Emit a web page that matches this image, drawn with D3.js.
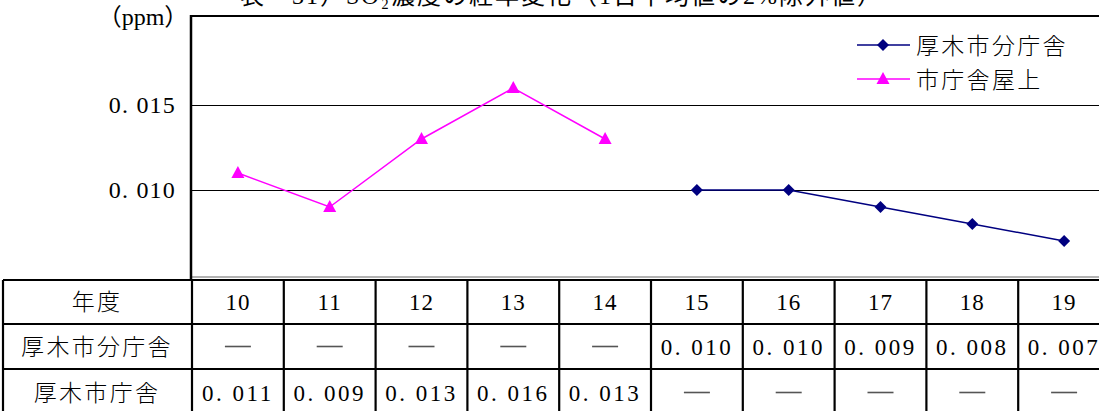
<!DOCTYPE html>
<html><head><meta charset="utf-8">
<script src="https://cdn.jsdelivr.net/npm/d3@7"></script>
<style>
html,body{margin:0;padding:0;background:#fff;overflow:hidden}
svg{display:block}
text{font-family:"Liberation Serif","Noto Sans CJK JP",serif;fill:#000}
</style></head>
<body>
<svg id="c" width="1099" height="411"></svg>
<script>
const title = "表－31）SO₂濃度の経年変化（1日平均値の2%除外値）";
const unitLabel = "（ppm）";
const years = ["10","11","12","13","14","15","16","17","18","19"];
const seriesNames = ["厚木市分庁舎","市庁舎屋上"];
const tableRowNames = ["厚木市分庁舎","厚木市庁舎"];
const bunchosha = [null,null,null,null,null,0.010,0.010,0.009,0.008,0.007];
const honchosha = [0.011,0.009,0.013,0.016,0.013,null,null,null,null,null];
const yTicks = [0.010,0.015];
const colors = ["#000080","#ff00ff"];

const svg = d3.select("#c");
const fmt = d3.format(".3f");
const numFont = "Liberation Serif";
const cjk = "'Noto Sans CJK JP'";

const x = d3.scaleBand().domain(years).range([192,1110]);
const y = d3.scaleLinear().domain([0.005,0.020]).range([275,20]);
const plotTop = 16, plotBottom = 277;

// title (cut off at top, as in the reference)
svg.append("text").attr("x",240).attr("y",4).style("font-size","24px")
  .style("font-family",numFont+","+cjk).attr("letter-spacing",2).text(title);
// unit
svg.append("text").attr("x",143).attr("y",25).attr("text-anchor","middle")
  .style("font-size","24px").text(unitLabel);

// gridlines
svg.append("g").selectAll("line").data(yTicks).join("line")
  .attr("x1",191).attr("x2",1099).attr("y1",d=>Math.round(y(d))+0.5).attr("y2",d=>Math.round(y(d))+0.5)
  .attr("stroke","#000").attr("stroke-width",1.3).attr("shape-rendering","crispEdges");
// y labels
svg.append("g").selectAll("text").data(yTicks).join("text")
  .attr("x",176).attr("y",d=>y(d)+8).attr("text-anchor","end")
  .style("font-size","24px").attr("letter-spacing",1.2)
  .text(d=>fmt(d).replace(".",". "));

// plot frame
svg.append("line").attr("x1",191).attr("x2",1099).attr("y1",plotTop).attr("y2",plotTop)
  .attr("stroke","#000").attr("stroke-width",2.2);
svg.append("line").attr("x1",191).attr("x2",1099).attr("y1",plotBottom).attr("y2",plotBottom)
  .attr("stroke","#999").attr("stroke-width",1.5);
svg.append("line").attr("x1",191).attr("x2",191).attr("y1",plotTop-1).attr("y2",281)
  .attr("stroke","#000").attr("stroke-width",2.5);

// series
const cx = d=>x(d)+x.bandwidth()/2;
const series = [bunchosha, honchosha];
series.forEach((vals,i)=>{
  const pts = years.map((yr,j)=>({yr,v:vals[j]})).filter(p=>p.v!=null);
  svg.append("path").datum(pts)
    .attr("d",d3.line().x(p=>cx(p.yr)).y(p=>y(p.v)))
    .attr("fill","none").attr("stroke",colors[i]).attr("stroke-width",1.5);
  svg.append("g").selectAll("path").data(pts).join("path")
    .attr("transform",p=>`translate(${cx(p.yr)},${y(p.v)})`)
    .attr("d", i===0 ? "M0,-6L6,0L0,6L-6,0Z" : "M0,-7L6.5,5L-6.5,5Z")
    .attr("fill",colors[i]);
});

// legend
const legY = [45,79];
seriesNames.forEach((n,i)=>{
  const g = svg.append("g");
  g.append("line").attr("x1",857).attr("x2",910).attr("y1",legY[i]).attr("y2",legY[i])
    .attr("stroke",colors[i]).attr("stroke-width",1.5);
  g.append("path").attr("transform",`translate(883,${legY[i]})`)
    .attr("d", i===0 ? "M0,-6L6,0L0,6L-6,0Z" : "M0,-7L6.5,5L-6.5,5Z").attr("fill",colors[i]);
  g.append("text").attr("x",916).attr("y",legY[i]+9).style("font-family",cjk)
    .style("font-size","23px").style("font-weight","300").attr("letter-spacing",2.3).text(n);
});

// table
const rowsY = [280,324,369,416];
const tbl = svg.append("g");
rowsY.forEach(r=>tbl.append("line").attr("x1",3).attr("x2",1110).attr("y1",r).attr("y2",r)
  .attr("stroke","#000").attr("stroke-width",2.2));
const colX = [3].concat(years.map(yr=>x(yr)));
colX.forEach(c=>tbl.append("line").attr("x1",c).attr("x2",c).attr("y1",280).attr("y2",416)
  .attr("stroke","#000").attr("stroke-width",2.2));
// header
const headers = ["年度"].concat(tableRowNames);
headers.forEach((h,i)=>{
  tbl.append("text").attr("x",97).attr("y",(rowsY[i]+rowsY[i+1])/2+8)
    .attr("text-anchor","middle").style("font-family",cjk).style("font-size","23px")
    .style("font-weight","300").attr("letter-spacing",2.3).text(h);
});
tbl.selectAll("text.yr").data(years).join("text").attr("class","yr")
  .attr("x",d=>cx(d)).attr("y",(rowsY[0]+rowsY[1])/2+8).attr("text-anchor","middle")
  .style("font-size","23px").attr("letter-spacing",1).text(d=>d);
series.forEach((vals,i)=>{
  const ry = (rowsY[i+1]+rowsY[i+2])/2;
  years.forEach((yr,j)=>{
    if(vals[j]==null){
      tbl.append("line").attr("x1",cx(yr)-13).attr("x2",cx(yr)+13).attr("y1",ry).attr("y2",ry)
        .attr("stroke","#555").attr("stroke-width",1.6);
    } else {
      tbl.append("text").attr("x",cx(yr)).attr("y",ry+8).attr("text-anchor","middle")
        .style("font-size","23px").attr("letter-spacing",2.5).text(fmt(vals[j]).replace(".",". "));
    }
  });
});
</script>
</body></html>
